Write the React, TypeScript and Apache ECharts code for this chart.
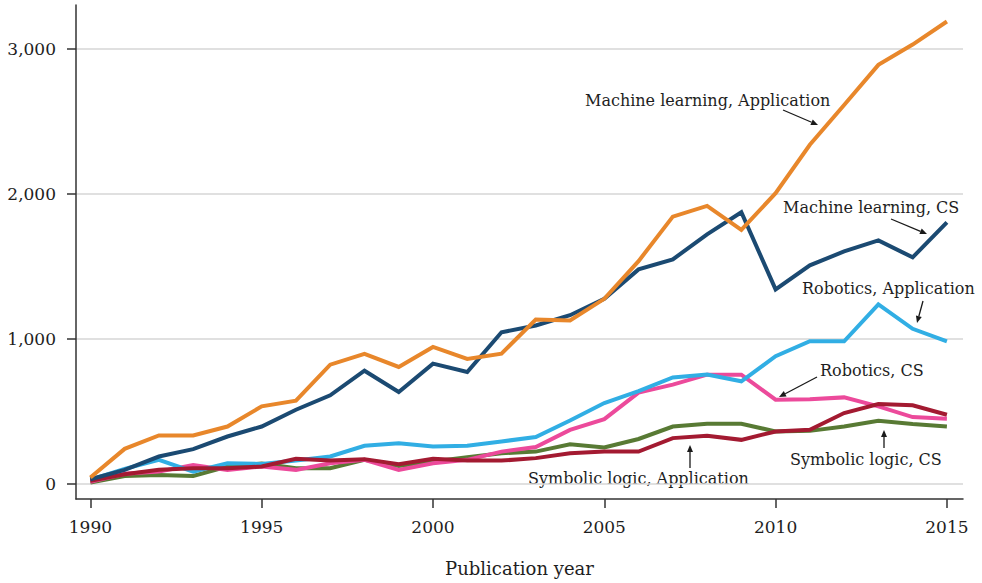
import React, { useEffect, useRef } from "react";
import * as echarts from "echarts";

const years = [1990, 1991, 1992, 1993, 1994, 1995, 1996, 1997, 1998, 1999, 2000, 2001, 2002, 2003, 2004, 2005, 2006, 2007, 2008, 2009, 2010, 2011, 2012, 2013, 2014, 2015];

const mlApplication = [44, 242, 334, 334, 396, 535, 574, 823, 897, 807, 945, 862, 899, 1134, 1127, 1277, 1537, 1844, 1918, 1752, 2006, 2340, 2614, 2891, 3031, 3190];
const mlCS = [32, 97, 189, 240, 327, 396, 512, 611, 781, 634, 830, 772, 1046, 1093, 1164, 1277, 1480, 1549, 1722, 1874, 1342, 1508, 1604, 1680, 1563, 1805];
const roboticsApplication = [30, 104, 166, 85, 143, 138, 161, 189, 263, 281, 258, 263, 293, 323, 438, 558, 640, 735, 754, 708, 881, 984, 984, 1238, 1070, 984];
const roboticsCS = [15, 70, 85, 131, 97, 120, 97, 143, 166, 97, 143, 166, 223, 254, 373, 447, 630, 685, 754, 754, 581, 585, 597, 535, 461, 450];
const symbolicApplication = [21, 67, 97, 108, 108, 120, 173, 161, 171, 136, 173, 161, 161, 178, 212, 223, 223, 316, 332, 304, 362, 373, 489, 551, 542, 477];
const symbolicCS = [9, 55, 62, 55, 120, 140, 108, 108, 166, 124, 154, 184, 212, 223, 274, 251, 310, 396, 415, 415, 362, 366, 396, 436, 413, 396];

const xTicks = [1990, 1995, 2000, 2005, 2010, 2015];
const yTicks = [0, 1000, 2000, 3000];

const FONT = "'DejaVu Serif', 'Liberation Serif', serif";
const TEXT = "#1e1e1e";

function pairs(vals: number[]) {
  return years.map((y, i) => [y, vals[i]]);
}

function arrow(x1: number, y1: number, x2: number, y2: number) {
  const ang = Math.atan2(y2 - y1, x2 - x1);
  const len = 7;
  const hw = 3;
  const bx = x2 - len * Math.cos(ang);
  const by = y2 - len * Math.sin(ang);
  const px = -Math.sin(ang) * hw;
  const py = Math.cos(ang) * hw;
  return [
    {
      type: "line",
      shape: { x1, y1, x2: bx, y2: by },
      style: { stroke: "#1a1a1a", lineWidth: 1.3 },
      silent: true,
    },
    {
      type: "polygon",
      shape: { points: [[x2, y2], [bx + px, by + py], [bx - px, by - py]] },
      style: { fill: "#1a1a1a" },
      silent: true,
    },
  ];
}

function label(text: string, x: number, y: number) {
  return {
    type: "text",
    x,
    y,
    style: {
      text,
      fill: TEXT,
      font: `16px ${FONT}`,
      textAlign: "left",
      textVerticalAlign: "middle",
    },
    silent: true,
  };
}

const seriesDefs = [
  { name: "Symbolic logic, CS", data: symbolicCS, color: "#587A34" },
  { name: "Robotics, CS", data: roboticsCS, color: "#EC4A9B" },
  { name: "Robotics, Application", data: roboticsApplication, color: "#31AEE4" },
  { name: "Symbolic logic, Application", data: symbolicApplication, color: "#A31A31" },
  { name: "Machine learning, CS", data: mlCS, color: "#1B4A72" },
  { name: "Machine learning, Application", data: mlApplication, color: "#E8872B" },
];

export default function App() {
  const ref = useRef<HTMLDivElement>(null);
  useEffect(() => {
    document.body.style.margin = "0";
    const chart = echarts.init(ref.current!, null, { renderer: "svg" });
    const axisColor = "#333333";
    chart.setOption({
      animation: false,
      backgroundColor: "#ffffff",
      grid: { left: 76, right: 19, top: 5, bottom: 84, containLabel: false },
      xAxis: {
        type: "value",
        min: 1989.58,
        max: 2015.47,
        name: "Publication year",
        nameLocation: "middle",
        nameGap: 60,
        nameTextStyle: { fontFamily: FONT, fontSize: 18, color: TEXT },
        axisLine: { show: true, onZero: false, lineStyle: { color: axisColor, width: 1.5 } },
        axisTick: { show: true, length: 9, customValues: xTicks, lineStyle: { color: axisColor, width: 1.5 } },
        axisLabel: { customValues: xTicks, margin: 19, fontFamily: FONT, fontSize: 17, color: TEXT, formatter: (v: number) => String(v) },
        splitLine: { show: false },
      },
      yAxis: {
        type: "value",
        min: -104,
        max: 3304,
        axisLine: { show: true, onZero: false, lineStyle: { color: axisColor, width: 1.5 } },
        axisTick: { show: true, length: 9, customValues: yTicks, lineStyle: { color: axisColor, width: 1.5 } },
        axisLabel: {
          customValues: yTicks,
          margin: 20,
          fontFamily: FONT,
          fontSize: 17,
          color: TEXT,
          formatter: (v: number) => v.toLocaleString("en-US"),
        },
        splitLine: { show: true, lineStyle: { color: "#d6d6d6", width: 1.5 } },
      },
      series: seriesDefs.map((s) => ({
        type: "line",
        name: s.name,
        data: pairs(s.data),
        showSymbol: false,
        symbol: "none",
        lineStyle: { color: s.color, width: 4, join: "miter" },
        itemStyle: { color: s.color },
      })),
      graphic: [
        label("Machine learning, Application", 585, 100),
        ...arrow(783, 110, 818, 125),
        label("Machine learning, CS", 783, 207),
        ...arrow(891, 219, 927, 234),
        label("Robotics, Application", 802, 288),
        ...arrow(923, 301, 917, 323),
        label("Robotics, CS", 820, 370),
        ...arrow(817, 377, 779, 397),
        label("Symbolic logic, CS", 790, 459),
        ...arrow(884, 448, 884, 430),
        label("Symbolic logic, Application", 528, 478),
        ...arrow(690, 468, 690, 445),
      ],
    });
    return () => chart.dispose();
  }, []);
  return <div ref={ref} style={{ width: 982, height: 583 }} />;
}
